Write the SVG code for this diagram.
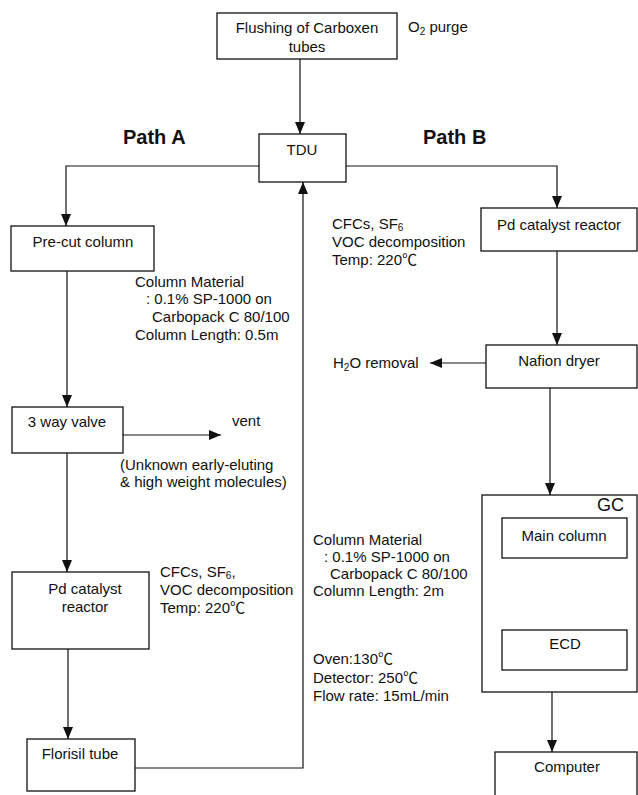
<svg xmlns="http://www.w3.org/2000/svg" width="638" height="795" viewBox="0 0 638 795">
<style>
text{font-family:"Liberation Sans","Noto Sans CJK SC",sans-serif;font-size:15px;fill:#111}
.c{text-anchor:middle}
.b{font-weight:bold;font-size:20px}
.box{fill:#fff;stroke:#111;stroke-width:1.3}
.ln{fill:none;stroke:#111;stroke-width:1.2}
.sub{font-size:10px}
</style>
<defs>
<marker id="ah" markerUnits="userSpaceOnUse" markerWidth="12" markerHeight="12" viewBox="0 0 12 12" refX="12" refY="6" orient="auto">
<path d="M0,1 L12,6 L0,11 Z" fill="#111"/>
</marker>
</defs>
<g id="connectors">
<line class="ln" x1="300" y1="59" x2="300" y2="134" marker-end="url(#ah)"/>
<path class="ln" d="M259,166 H66 V226" marker-end="url(#ah)"/>
<path class="ln" d="M346,166 H557 V208" marker-end="url(#ah)"/>
<line class="ln" x1="557" y1="251" x2="557" y2="345" marker-end="url(#ah)"/>
<line class="ln" x1="486" y1="363" x2="430" y2="363" marker-end="url(#ah)"/>
<line class="ln" x1="550" y1="388" x2="550" y2="495" marker-end="url(#ah)"/>
<line class="ln" x1="557" y1="558" x2="557" y2="630" marker-end="url(#ah)"/>
<line class="ln" x1="552" y1="692" x2="552" y2="752" marker-end="url(#ah)"/>
<line class="ln" x1="67" y1="271" x2="67" y2="407" marker-end="url(#ah)"/>
<line class="ln" x1="123" y1="435" x2="221" y2="435" marker-end="url(#ah)"/>
<line class="ln" x1="67" y1="453" x2="67" y2="572" marker-end="url(#ah)"/>
<line class="ln" x1="68" y1="649" x2="68" y2="739" marker-end="url(#ah)"/>
<path class="ln" d="M135,768 H303 V182" marker-end="url(#ah)"/>
</g>
<g id="flushing">
<rect class="box" x="217" y="13" width="180" height="46"/>
<text class="c" x="307" y="33">Flushing of Carboxen</text>
<text class="c" x="307" y="52">tubes</text>
</g>
<g id="o2purge"><text x="408" y="32">O<tspan class="sub" dy="3">2</tspan><tspan dy="-3"> purge</tspan></text></g>
<g id="tdu">
<rect class="box" x="259" y="134" width="87" height="48"/>
<text class="c" x="302" y="155">TDU</text>
</g>
<g id="labels-paths">
<text class="b" x="123" y="144">Path A</text>
<text class="b" x="423" y="144">Path B</text>
</g>
<g id="pd-b">
<rect class="box" x="481" y="208" width="156" height="43"/>
<text class="c" x="559" y="230">Pd catalyst reactor</text>
</g>
<g id="pd-b-note">
<text x="332" y="229">CFCs, SF<tspan class="sub" dy="2">6</tspan></text>
<text x="332" y="247">VOC decomposition</text>
<text x="332" y="265">Temp: 220℃</text>
</g>
<g id="nafion">
<rect class="box" x="486" y="345" width="151" height="43"/>
<text class="c" x="559" y="366">Nafion dryer</text>
</g>
<g id="h2o"><text x="333" y="368">H<tspan class="sub" dy="3">2</tspan><tspan dy="-3">O removal</tspan></text></g>
<g id="gc">
<rect class="box" x="482" y="495" width="155" height="197"/>
<text x="624" y="511" style="font-size:18px;text-anchor:end">GC</text>
</g>
<g id="main-column">
<rect class="box" x="502" y="518" width="125" height="40"/>
<text class="c" x="564" y="541">Main column</text>
</g>
<g id="ecd">
<rect class="box" x="502" y="630" width="125" height="40"/>
<text class="c" x="565" y="649">ECD</text>
</g>
<g id="computer">
<rect class="box" x="495" y="752" width="142" height="52"/>
<text class="c" x="567" y="772">Computer</text>
</g>
<g id="precut">
<rect class="box" x="11" y="226" width="143" height="45"/>
<text class="c" x="83" y="247">Pre-cut column</text>
</g>
<g id="precut-note">
<text x="135" y="287">Column Material</text>
<text x="146" y="304">: 0.1% SP-1000 on</text>
<text x="152" y="322">Carbopack C 80/100</text>
<text x="135" y="340">Column Length: 0.5m</text>
</g>
<g id="valve">
<rect class="box" x="12" y="407" width="111" height="46"/>
<text class="c" x="67" y="427">3 way valve</text>
</g>
<g id="vent">
<text x="232" y="426">vent</text>
<text x="120" y="470">(Unknown early-eluting</text>
<text x="120" y="487">&amp; high weight molecules)</text>
</g>
<g id="pd-a">
<rect class="box" x="12" y="572" width="137" height="77"/>
<text class="c" x="85" y="594">Pd catalyst</text>
<text class="c" x="85" y="612">reactor</text>
</g>
<g id="pd-a-note">
<text x="160" y="577">CFCs, SF<tspan class="sub" dy="2">6</tspan><tspan dy="-2">,</tspan></text>
<text x="160" y="595">VOC decomposition</text>
<text x="160" y="613">Temp: 220℃</text>
</g>
<g id="florisil">
<rect class="box" x="27" y="739" width="108" height="52"/>
<text class="c" x="80" y="759">Florisil tube</text>
</g>
<g id="main-note">
<text x="313" y="545">Column Material</text>
<text x="324" y="562">: 0.1% SP-1000 on</text>
<text x="330" y="579">Carbopack C 80/100</text>
<text x="313" y="596">Column Length: 2m</text>
<text x="313" y="664">Oven:130℃</text>
<text x="313" y="683">Detector: 250℃</text>
<text x="313" y="701">Flow rate: 15mL/min</text>
</g>
</svg>
